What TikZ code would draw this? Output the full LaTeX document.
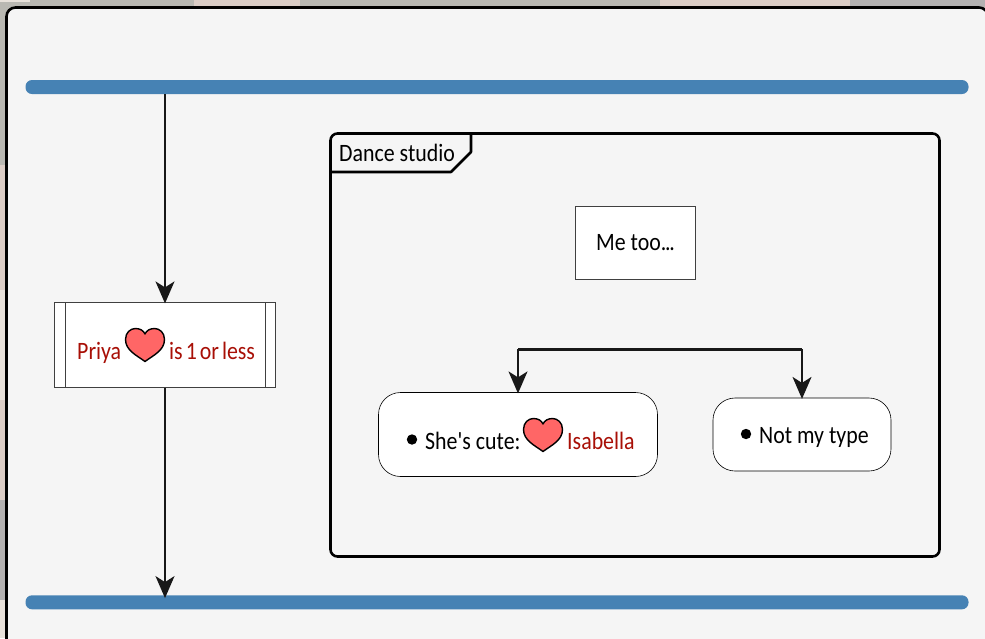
\documentclass[tikz,border=0pt]{standalone}
\usepackage{fontspec}
\newfontfamily\labelfont[FakeStretch=0.875]{Carlito}
\usetikzlibrary{arrows.meta,calc}
\definecolor{panelbg}{HTML}{F5F5F5}
\definecolor{barblue}{HTML}{4682B4}
\definecolor{darkred}{HTML}{A80F06}
\definecolor{heartfill}{HTML}{FF6666}
\definecolor{linegray}{HTML}{181818}
\definecolor{bggrey}{HTML}{B9B8B2}
\definecolor{bgpink}{HTML}{DBCDC6}
\definecolor{bgcream}{HTML}{E8E2DB}
\definecolor{bgslate}{HTML}{B4B2B2}
\tikzset{
  x=1pt,y=-1pt,
  syncbar/.style={fill=barblue,draw=none,rounded corners=6.5pt,minimum height=14pt,inner sep=0pt},
  flow/.style={draw=linegray,line width=1.6pt,shorten >=-1.2pt,-{Stealth[length=22pt,width=19pt,inset=6pt]}},
  actbox/.style={draw=black!75,line width=.6pt,fill=white,inner sep=0pt},
  txt/.style={font=\labelfont\fontsize{25}{27}\selectfont,inner sep=0pt,anchor=base west},
  heartshape/.style={fill=heartfill,draw=black,line width=1.4pt,line join=round}
}
\newcommand{\heartat}[2]{%
  \draw[heartshape,shift={(#1,#2)}] (0,17)
    .. controls (-8,11) and (-19.5,6) .. (-19.5,-5)
    .. controls (-19.5,-12) and (-14.5,-16) .. (-9.5,-16)
    .. controls (-5,-16) and (-1.5,-14) .. (0,-10.5)
    .. controls (1.5,-14) and (5,-16) .. (9.5,-16)
    .. controls (14.5,-16) and (19.5,-12) .. (19.5,-5)
    .. controls (19.5,6) and (8,11) .. (0,17) -- cycle;}
\begin{document}
\begin{tikzpicture}
\useasboundingbox (0,0) rectangle (985,638);
% backdrop
\fill[bggrey] (0,0) rectangle (985,638);
\fill[bgcream] (0,0) rectangle (30,2);
\fill[bgpink] (194,0) rectangle (300,6);
\fill[bgpink] (660,0) rectangle (850,6);
\fill[bgslate] (850,0) rectangle (985,6);
\fill[bgpink] (0,165) rectangle (5,290);
\fill[bgcream] (0,290) rectangle (5,400);
\fill[bgpink] (0,400) rectangle (5,500);
\fill[bgslate] (0,500) rectangle (5,600);
\fill[bgcream] (0,600) rectangle (5,638);
% panel
\begin{scope}
\clip (0,0) rectangle (985,638);
\draw[fill=panelbg,draw=black,line width=2.6pt,rounded corners=9pt] (6.5,7.5) -- (988,7.5) -- (988,650) -- (6.5,650) -- cycle;
\end{scope}
% bars
\node[syncbar,minimum width=943pt] (top) at (497,87) {};
\node[syncbar,minimum width=943pt] (bot) at (497,602.3) {};
% group
\node[draw=black,line width=2.6pt,rounded corners=7pt,minimum width=609pt,minimum height=423pt,inner sep=0pt] (studio) at (635,345) {};
\coordinate (tabA) at (331,172);
\draw[black,line width=2.6pt,line join=round] (tabA) -- (451,172) -- (471,152) -- (471,134);
\node[txt] (studiolabel) at (339,161) {Dance studio};
% Priya
\node[actbox,minimum width=221pt,minimum height=85pt] (priya) at (164.5,345) {};
\draw[black!75,line width=.6pt] (65,303) -- (65,387) (265,303) -- (265,387);
\node[txt,text=darkred] (p1) at (77,359) {Priya};
\heartat{145}{344.5}
\node[txt,text=darkred] (p2) at (169,359) {\spaceskip=3pt is 1 or less};
% me too
\node[actbox,minimum width=120pt,minimum height=73pt,font=\labelfont\fontsize{25}{27}\selectfont] (metoo) at (635.5,243) {Me too.\kern-1.3pt.\kern-1.3pt.};
% branches
\node[actbox,draw=black,rounded corners=22pt,minimum width=279pt,minimum height=84pt] (cute) at (518,434.5) {};
\node[actbox,draw=black,rounded corners=22pt,minimum width=178pt,minimum height=73pt] (nottype) at (802,434.5) {};
\fill[black] (412,439.5) circle (5.2pt) coordinate (b1);
\node[txt] (c1) at (425,449) {She's cute:};
\heartat{543}{434.5}
\node[txt,text=darkred] (c2) at (567,449) {Isabella};
\fill[black] (746,434) circle (5.2pt) coordinate (b2);
\node[txt] (n1) at (759,443) {Not my type};
% connectors
\draw[flow] (top.south -| 165,0) -- (priya.north -| 165,0);
\draw[flow,shorten >=-3pt] (priya.south -| 165,0) -- (bot.north -| 165,0);
\coordinate (fork) at (518,349);
\coordinate (forkr) at (802,349);
\draw[linegray,line width=3pt] (fork) -- (forkr);
\draw[flow] (fork) -- (cute.north);
\draw[flow] (forkr) -- (nottype.north);
\end{tikzpicture}
\end{document}
